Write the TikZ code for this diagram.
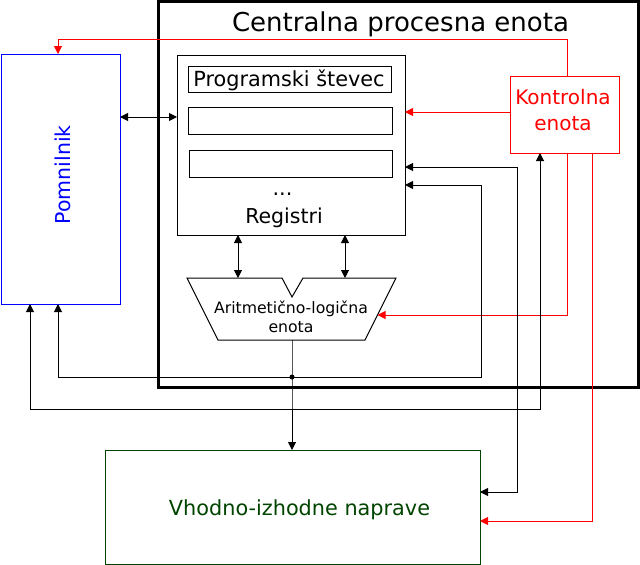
\documentclass[tikz,border=0pt]{standalone}
\usepackage{fontspec}
\setmainfont{DejaVu Sans}
\usepackage{tikz}
\usetikzlibrary{arrows.meta}
\definecolor{iogreen}{HTML}{004400}
\definecolor{memblue}{HTML}{0000FF}
\newcommand\lblfont{\fontsize{20.8}{26}\selectfont}

\begin{document}
\begin{tikzpicture}[x=1pt, y=-1pt, line width=1pt, >={Triangle[length=8pt,width=8pt]},
        box/.style={draw, inner sep=0pt, outer sep=0pt},
        ctl/.style={draw=red}]
        \useasboundingbox (0,0) rectangle (640,565);

        \node[box, line width=3pt, minimum width=479.5, minimum height=385.5] (cpu) at (398.25,194.25) {};
        \node[font=\fontsize{26}{30}\selectfont, anchor=base] (title) at (400.5,31.5) {Centralna procesna enota};

        \node[box, draw=memblue, minimum width=119, minimum height=250] (pom) at (60.5,179) {};
        \node[text=memblue, font=\fontsize{20.5}{26}\selectfont, rotate=90, anchor=base] (pomtxt) at (70,175) {Pomnilnik};

        \node[box, minimum width=228, minimum height=180] (reg) at (291,145) {};
        \node[box, minimum width=203, minimum height=26] (pc) at (289.5,79) {};
        \node[font=\lblfont, anchor=base] (pctxt) at (289,86) {Programski števec};
        \node[box, minimum width=204, minimum height=27] (r1) at (290,120.5) {};
        \node[box, minimum width=203, minimum height=27] (r2) at (290.5,163.5) {};
        \node[font=\lblfont, anchor=base] (dots) at (282.5,195) {...};
        \node[font=\fontsize{20.5}{26}\selectfont, anchor=base] (regtxt) at (284,223) {Registri};

        \node[box, draw=red, minimum width=109, minimum height=77] (ke) at (564.5,114.5) {};
        \node[text=red, font=\fontsize{20}{26}\selectfont, align=center] (ketxt) at (563,110.4) {Kontrolna\\enota};

        \draw (187,278) -- (282,278) -- (292,297) -- (303,278) -- (396,278) -- (365,340) -- (218,340) -- cycle;
        \coordinate (alu-in1) at (238,278);
        \coordinate (alu-in2) at (345,278);
        \coordinate (alu-ctl) at (377.5,315);
        \coordinate (alu-out) at (292,340);
        \node[font=\fontsize{15.7}{19.5}\selectfont, align=center] (alu) at (291,316.8) {Aritmetično-logična\\enota};

        \node[box, draw=iogreen, minimum width=375, minimum height=114] (io) at (292.5,507) {};
        \node[text=iogreen, font=\lblfont, anchor=base] (iotxt) at (299.5,515) {Vhodno-izhodne naprave};

        \draw[<->] (pom.east |- 0,117) -- (reg.west |- 0,117);
        \draw[<->] (reg.south -| 238,0) -- (alu-in1);
        \draw[<->] (reg.south -| 345,0) -- (alu-in2);

        \draw[ctl, ->] (ke.north -| 567,0) |- (58,39) -- (pom.north -| 58,0);
        \draw[ctl, ->] (ke.west |- 0,112) -- (reg.east |- 0,112);
        \draw[ctl, ->] (ke.south -| 567,0) |- (alu-ctl);
        \draw[ctl, ->] (ke.south -| 592,0) |- (io.east |- 0,521);

        \draw[<->] (pom.south -| 30,0) |- (540,409) -- (ke.south -| 540,0);
        \draw[<->] (reg.east |- 0,167) -| (517,492) -- (io.east |- 0,492);
        \draw[<->] (reg.east |- 0,185) -| (481,377) -| (pom.south -| 58,0);
        \draw[->] (alu-out) -- (292,377) coordinate (spoj) -- (io.north -| 292,0);
        \fill (spoj) circle (2.5pt);
\end{tikzpicture}
\end{document}
